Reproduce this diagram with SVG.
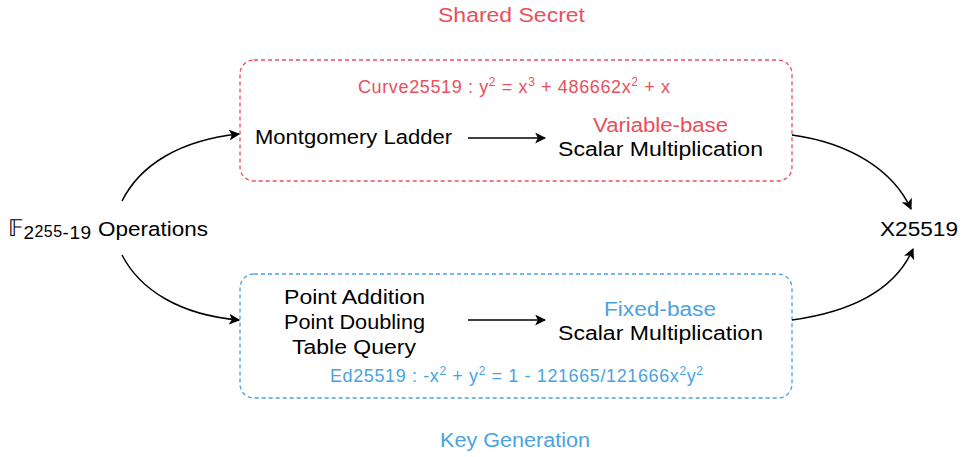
<svg xmlns="http://www.w3.org/2000/svg" width="964" height="457" viewBox="0 0 964 457">
<defs>
<marker id="ah" viewBox="0 0 10 10" refX="9" refY="5" markerWidth="11" markerHeight="11" markerUnits="userSpaceOnUse" orient="auto"><path d="M0,0 L10,5 L0,10 L2.5,5 Z" fill="#000"/></marker>
</defs>
<style>
text{font-family:"Liberation Sans",Arial,sans-serif;}
.lbl{font-size:20px;fill:#000;}
.red{fill:#e8505b;}
.blue{fill:#4aa3df;}
.eq{font-size:18px;}
.sup{font-size:12px;}
.conn{fill:none;stroke:#000;stroke-width:1.5;marker-end:url(#ah);}
</style>
<rect width="964" height="457" fill="#fff"/>
<g id="shared-secret">
<rect x="240" y="60" width="552" height="121" rx="14" fill="none" stroke="#e8505b" stroke-width="1.3" stroke-dasharray="4,3"/>
<text x="438" y="22" class="red" font-size="20" textLength="147" lengthAdjust="spacingAndGlyphs">Shared Secret</text>
<text x="358" y="93" class="red eq" textLength="312">Curve25519 : y<tspan class="sup" dy="-7">2</tspan><tspan dy="7"> = x</tspan><tspan class="sup" dy="-7">3</tspan><tspan dy="7"> + 486662x</tspan><tspan class="sup" dy="-7">2</tspan><tspan dy="7"> + x</tspan></text>
</g>
<g id="montgomery"><text x="255" y="144" class="lbl" textLength="197" lengthAdjust="spacingAndGlyphs">Montgomery Ladder</text></g>
<g id="variable-base">
<text x="593" y="132" class="lbl red" textLength="135" lengthAdjust="spacingAndGlyphs">Variable-base</text>
<text x="558" y="156" class="lbl" textLength="205" lengthAdjust="spacingAndGlyphs">Scalar Multiplication</text>
</g>
<g id="key-generation">
<rect x="240" y="274" width="552" height="124" rx="14" fill="none" stroke="#4aa3df" stroke-width="1.3" stroke-dasharray="4,3"/>
<text x="440" y="447" class="blue" font-size="20" textLength="150" lengthAdjust="spacingAndGlyphs">Key Generation</text>
<text x="330" y="382" class="blue eq" textLength="373">Ed25519 : -x<tspan class="sup" dy="-7">2</tspan><tspan dy="7"> + y</tspan><tspan class="sup" dy="-7">2</tspan><tspan dy="7"> = 1 - 121665/121666x</tspan><tspan class="sup" dy="-7">2</tspan><tspan dy="7">y</tspan><tspan class="sup" dy="-7">2</tspan></text>
</g>
<g id="point-ops">
<text x="284" y="304" class="lbl" textLength="141" lengthAdjust="spacingAndGlyphs">Point Addition</text>
<text x="284" y="329" class="lbl" textLength="141" lengthAdjust="spacingAndGlyphs">Point Doubling</text>
<text x="292" y="354" class="lbl" textLength="124" lengthAdjust="spacingAndGlyphs">Table Query</text>
</g>
<g id="fixed-base">
<text x="604" y="316" class="lbl blue" textLength="112" lengthAdjust="spacingAndGlyphs">Fixed-base</text>
<text x="558" y="340" class="lbl" textLength="205" lengthAdjust="spacingAndGlyphs">Scalar Multiplication</text>
</g>
<g id="field-ops">
<text x="8" y="236" font-size="23" fill="#000" textLength="83">𝔽<tspan font-size="19" dy="3">2</tspan><tspan font-size="16" dy="-2">255</tspan><tspan font-size="19" dy="2">-19</tspan></text>
<text x="98" y="236" class="lbl" textLength="110" lengthAdjust="spacingAndGlyphs">Operations</text>
</g>
<g id="x25519"><text x="880" y="236" class="lbl" textLength="78" lengthAdjust="spacingAndGlyphs">X25519</text></g>
<g id="connectors">
<path class="conn" d="M122,201 C140,165 180,140 239,134"/>
<path class="conn" d="M122,255 C140,290 180,315 239,320"/>
<path class="conn" d="M468,138 L545,138"/>
<path class="conn" d="M468,320 L545,320"/>
<path class="conn" d="M792,135 C850,143 893,170 911,209"/>
<path class="conn" d="M792,320 C850,312 895,290 913,249"/>
</g>
</svg>
